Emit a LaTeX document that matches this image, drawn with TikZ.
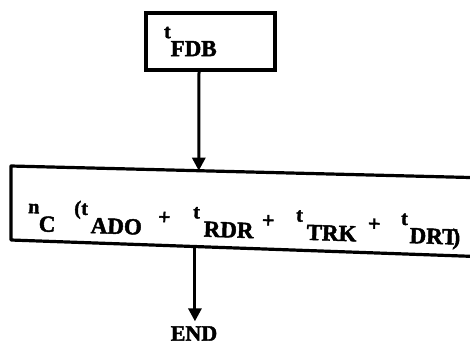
\documentclass[tikz,border=0pt]{standalone}
\usepackage{fontspec}
\setmainfont{Liberation Serif}
\newfontfamily\heavy[FakeBold=2]{Liberation Serif Bold}
\usetikzlibrary{arrows.meta,calc}
\newcommand\lc[1]{\raisebox{18pt}{\fontsize{20}{20}\selectfont #1}}
\newcommand\pl{\raisebox{11pt}{\fontsize{22}{22}\selectfont +}}
\newcommand\putat[2]{\rlap{\hspace*{#1pt}#2}}
\begin{document}
\begin{tikzpicture}[x=1pt,y=1pt,line width=3.2pt,
  boxtext/.style={font=\heavy\fontsize{23}{27}\selectfont},
  arr/.style={line width=3pt,-{Triangle[length=13pt,width=13pt]}}]
\useasboundingbox (0,0) rectangle (470,-346);
\clip (0,0) rectangle (470,-346);
\node[draw, boxtext, minimum width=129pt, minimum height=57pt, text width=93pt,
      align=left, inner xsep=18pt, inner ysep=0pt] (fdb) at (210.5,-41.5) {\lc{t}FDB};
\coordinate (btl) at (11,-166);
\coordinate (btr) at (490,-178);
\coordinate (bbl) at (11,-240);
\coordinate (bbr) at (490,-257);
\draw[line join=round] (btr) -- (btl) -- (bbl) -- (bbr);
\node[boxtext, anchor=base west, rotate=-1.8, inner sep=0pt] (sum) at (26,-231)
  {\makebox[440pt][l]{\putat{0}{\lc{n}}\putat{11}{C}\putat{46}{\lc{(}}\putat{53}{\lc{t}}\putat{63}{ADO}%
   \putat{130}{\pl}\putat{165}{\lc{t}}\putat{176}{RDR}%
   \putat{234}{\pl}\putat{268}{\lc{t}}\putat{279}{TRK}%
   \putat{340}{\pl}\putat{373}{\lc{t}}\putat{382}{DRT}\putat{425}{)}}};
\node[font=\heavy\fontsize{22}{24}\selectfont] (end) at (194,-333.5) {END};
\coordinate (tin) at ($(btl)!0.392!(btr)$);
\coordinate (bout) at ($(bbl)!0.384!(bbr)$);
\draw[arr] ([xshift=-11.5pt]fdb.south) -- (tin);
\draw[arr] (bout) -- (bout |- end.north);
\end{tikzpicture}
\end{document}
